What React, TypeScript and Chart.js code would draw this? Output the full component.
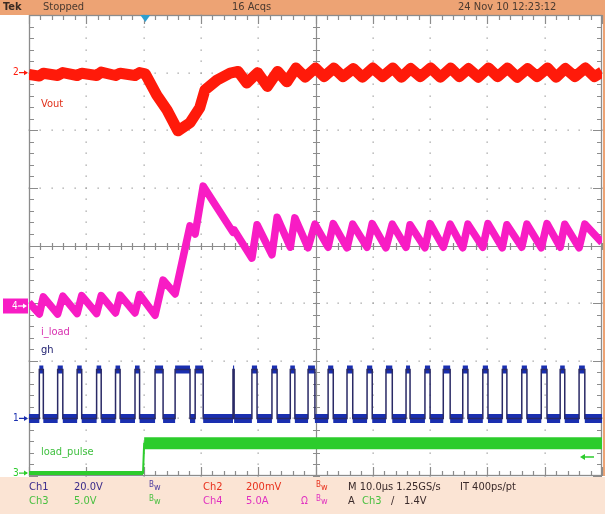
import React, { useEffect, useRef } from 'react';
import { Chart, registerables } from 'chart.js';

Chart.register(...registerables);

// ---- time axis: 0..100 µs (10 µs/div), vertical axis in divisions (-4..4) ----
const timeMin = 0;
const timeMax = 100;
const divMin = -4;
const divMax = 4;
const triggerTime = 20.3;

// Ch2 (Vout) trace, in divisions
const voutT = [0, 1.8, 2.5, 5.0, 5.9, 8.4, 9.2, 11.8, 12.6, 15.1, 15.9, 18.5, 19.3, 20.3, 22.3, 24.1, 26.0, 28.1, 29.8, 30.7, 32.8, 35.1, 36.5, 38.0, 39.9, 41.6, 43.4, 45.0, 46.6, 48.2, 50.0, 51.5, 53.2, 54.8, 56.6, 58.2, 60.0, 61.7, 63.5, 65.0, 66.6, 68.3, 70.1, 71.8, 73.6, 75.1, 76.7, 78.4, 80.2, 81.8, 83.5, 85.2, 87.0, 88.7, 90.5, 92.0, 93.6, 95.3, 97.1, 98.7, 100];
const voutV = [2.97, 2.94, 2.99, 2.95, 3.00, 2.95, 2.99, 2.95, 3.01, 2.95, 2.99, 2.95, 3.00, 2.98, 2.61, 2.35, 1.99, 2.13, 2.39, 2.70, 2.87, 2.99, 3.02, 2.82, 3.00, 2.76, 3.02, 2.84, 3.08, 2.92, 3.08, 2.93, 3.08, 2.93, 3.07, 2.92, 3.08, 2.93, 3.08, 2.92, 3.07, 2.93, 3.08, 2.92, 3.08, 2.93, 3.07, 2.92, 3.08, 2.93, 3.08, 2.92, 3.07, 2.93, 3.08, 2.92, 3.07, 2.93, 3.08, 2.93, 3.01];

// Ch4 (i_load) trace, in divisions
const iloadT = [0, 1.8, 2.5, 5.0, 5.9, 8.4, 9.2, 11.8, 12.6, 15.1, 15.9, 18.5, 19.3, 22.0, 23.4, 25.5, 28.1, 29.0, 30.4, 35.6, 35.8, 38.9, 39.8, 42.4, 43.3, 45.6, 46.4, 48.7, 49.9, 52.2, 53.1, 55.5, 56.5, 59.0, 59.9, 62.3, 63.4, 65.8, 66.5, 69.1, 70.0, 72.3, 73.5, 75.7, 76.6, 79.2, 80.1, 82.6, 83.4, 86.0, 86.9, 89.4, 90.4, 92.7, 93.5, 96.0, 97.0, 100];
const iloadV = [-0.99, -1.19, -0.89, -1.19, -0.88, -1.18, -0.87, -1.18, -0.87, -1.17, -0.86, -1.17, -0.85, -1.21, -0.60, -0.84, 0.34, 0.20, 1.03, 0.23, 0.27, -0.22, 0.36, -0.16, 0.49, -0.03, 0.48, -0.04, 0.37, -0.03, 0.38, -0.04, 0.37, -0.03, 0.38, -0.04, 0.37, -0.03, 0.36, -0.04, 0.38, -0.03, 0.37, -0.04, 0.37, -0.03, 0.38, -0.04, 0.36, -0.03, 0.37, -0.04, 0.38, -0.03, 0.37, -0.04, 0.37, 0.05];

// Ch1 (gh) gate pulses: rising / falling edge times (µs) and levels (div)
const ghRise = [1.8, 5.0, 8.4, 11.8, 15.1, 18.5, 22.0, 25.5, 29.0, 35.6, 38.9, 42.4, 45.6, 48.7, 52.2, 55.5, 59.0, 62.3, 65.8, 69.1, 72.3, 75.7, 79.2, 82.6, 86.0, 89.4, 92.7, 96.0];
const ghFall = [2.5, 5.9, 9.2, 12.6, 15.9, 19.3, 23.4, 28.1, 30.4, 35.8, 39.8, 43.3, 46.4, 49.9, 53.1, 56.5, 59.9, 63.4, 66.5, 70.0, 73.5, 76.6, 80.1, 83.4, 86.9, 90.4, 93.5, 97.0];
const ghHigh = -2.15;
const ghLow = -3.0;

// Ch3 (load_pulse) step
const loadT = [0, 19.9, 20.1, 100];
const loadV = [-3.95, -3.95, -3.43, -3.43];

// channel reference markers (div)
const markerLevels = { ch2: 3.0, ch4: -1.05, ch1: -3.0, ch3: -3.95, trig: -3.67 };

const RED = '#ff1a0a';
const MAGENTA = '#f81cc4';
const BLUE = '#1a2fb0';
const GREEN = '#2ccc2c';
const HEADER_BG = '#eda374';
const FOOTER_BG = '#fbe4d4';
const FONT = '"DejaVu Sans Condensed", "Liberation Sans Narrow", "DejaVu Sans", sans-serif';

function zip(ts: number[], vs: number[]) {
  return ts.map((t, i) => ({ x: t, y: vs[i] }));
}

function ghEdges() {
  const pts: { x: number; y: number }[] = [{ x: timeMin, y: ghLow }];
  ghRise.forEach((r, i) => {
    pts.push({ x: r, y: ghLow }, { x: r, y: ghHigh }, { x: ghFall[i], y: ghHigh }, { x: ghFall[i], y: ghLow });
  });
  pts.push({ x: timeMax, y: ghLow });
  return pts;
}

function ghLowBands() {
  const pts: { x: number; y: number | null }[] = [];
  let start = timeMin;
  ghRise.forEach((r, i) => {
    pts.push({ x: start, y: ghLow }, { x: r, y: ghLow }, { x: r, y: null });
    start = ghFall[i];
  });
  pts.push({ x: start, y: ghLow }, { x: timeMax, y: ghLow });
  return pts;
}

function ghHighBands() {
  const pts: { x: number; y: number | null }[] = [];
  ghRise.forEach((r, i) => {
    pts.push({ x: r, y: ghHigh }, { x: ghFall[i], y: ghHigh }, { x: ghFall[i], y: null });
  });
  return pts;
}

function text(ctx: CanvasRenderingContext2D, s: string, x: number, y: number, color: string, size = 11, weight = 'normal', align: CanvasTextAlign = 'left') {
  ctx.font = `${weight} ${size}px ${FONT}`;
  ctx.fillStyle = color;
  ctx.textAlign = align;
  ctx.textBaseline = 'middle';
  ctx.fillText(s, x, y);
}

function bw(ctx: CanvasRenderingContext2D, x: number, y: number, color: string) {
  text(ctx, 'B', x, y - 2, color, 8);
  text(ctx, 'w', x + 5, y + 1, color, 9);
}

const scopePlugin = {
  id: 'scope',
  beforeDraw(chart: any) {
    const { ctx, width, height, chartArea: a } = chart;
    ctx.save();
    ctx.fillStyle = '#ffffff';
    ctx.fillRect(0, 0, width, height);
    ctx.fillStyle = HEADER_BG;
    ctx.fillRect(0, 0, width, a.top);
    ctx.fillRect(a.right + 1, a.top, width - a.right, a.bottom - a.top);
    ctx.fillStyle = FOOTER_BG;
    ctx.fillRect(0, a.bottom + 1, width, height - a.bottom);
    ctx.restore();
  },
  beforeDatasetsDraw(chart: any) {
    const { ctx, chartArea: a, scales } = chart;
    const xs = scales.x;
    const ys = scales.y;
    ctx.save();
    // dotted division lines
    ctx.fillStyle = '#a0a0a0';
    for (let i = 1; i < 10; i++) {
      if (i === 5) continue;
      const xp = Math.round(xs.getPixelForValue(i * 10));
      for (let k = 0; k <= 40; k++) {
        const yp = Math.round(ys.getPixelForValue(divMin + k * 0.2));
        ctx.fillRect(xp - 0.5, yp - 0.5, 1.3, 1.3);
      }
    }
    for (let j = -3; j <= 3; j++) {
      if (j === 0) continue;
      const yp = Math.round(ys.getPixelForValue(j));
      for (let k = 0; k <= 50; k++) {
        const xp = Math.round(xs.getPixelForValue(k * 2));
        ctx.fillRect(xp - 0.5, yp - 0.5, 1.3, 1.3);
      }
    }
    // center cross
    ctx.strokeStyle = '#8c8c8c';
    ctx.lineWidth = 1.2;
    const cx = Math.round(xs.getPixelForValue(50)) + 0.5;
    const cy = Math.round(ys.getPixelForValue(0)) + 0.5;
    ctx.beginPath();
    ctx.moveTo(a.left, cy); ctx.lineTo(a.right, cy);
    ctx.moveTo(cx, a.top); ctx.lineTo(cx, a.bottom);
    for (let k = 0; k <= 50; k++) {
      const xp = Math.round(xs.getPixelForValue(k * 2)) + 0.5;
      ctx.moveTo(xp, cy - 3.5); ctx.lineTo(xp, cy + 3.5);
    }
    for (let k = 0; k <= 40; k++) {
      const yp = Math.round(ys.getPixelForValue(divMin + k * 0.2)) + 0.5;
      ctx.moveTo(cx - 3.5, yp); ctx.lineTo(cx + 3.5, yp);
    }
    ctx.stroke();
    // border with inward ticks
    ctx.strokeStyle = '#8c8c8c';
    ctx.lineWidth = 1.3;
    ctx.strokeRect(a.left + 0.5, a.top + 0.5, a.right - a.left - 1, a.bottom - a.top - 1);
    ctx.lineWidth = 1.2;
    ctx.beginPath();
    for (let k = 0; k <= 50; k++) {
      const xp = Math.round(xs.getPixelForValue(k * 2)) + 0.5;
      const len = k % 5 === 0 ? 9 : 5;
      ctx.moveTo(xp, a.top); ctx.lineTo(xp, a.top + len);
      ctx.moveTo(xp, a.bottom); ctx.lineTo(xp, a.bottom - len);
    }
    for (let k = 0; k <= 40; k++) {
      const yp = Math.round(ys.getPixelForValue(divMin + k * 0.2)) + 0.5;
      const len = k % 5 === 0 ? 9 : 5;
      ctx.moveTo(a.left, yp); ctx.lineTo(a.left + len, yp);
      ctx.moveTo(a.right, yp); ctx.lineTo(a.right - len, yp);
    }
    ctx.stroke();
    ctx.restore();
  },
  afterDatasetsDraw(chart: any) {
    const { ctx, chartArea: a, scales } = chart;
    const xs = scales.x;
    const ys = scales.y;
    ctx.save();
    // header
    text(ctx, 'Tek', 3, 7.5, '#3a2a22', 11, 'bold');
    text(ctx, 'Stopped', 43, 7.5, '#4a3a30', 11);
    text(ctx, '16 Acqs', 232, 7.5, '#4a3a30', 11);
    text(ctx, '24 Nov 10 12:23:12', 458, 7.5, '#4a3a30', 11);
    // trigger position marker
    const tx = xs.getPixelForValue(triggerTime);
    ctx.fillStyle = '#2e9fcf';
    ctx.beginPath();
    ctx.moveTo(tx - 5, a.top); ctx.lineTo(tx + 5, a.top); ctx.lineTo(tx, a.top + 7); ctx.closePath();
    ctx.fill();
    // channel markers
    const arrow = (y: number, color: string, label: string) => {
      text(ctx, label, 13, y, color, 10);
      ctx.strokeStyle = color; ctx.fillStyle = color; ctx.lineWidth = 1.2;
      ctx.beginPath(); ctx.moveTo(19, y); ctx.lineTo(27, y); ctx.stroke();
      ctx.beginPath(); ctx.moveTo(28, y); ctx.lineTo(24, y - 2.5); ctx.lineTo(24, y + 2.5); ctx.closePath(); ctx.fill();
    };
    arrow(ys.getPixelForValue(markerLevels.ch2), RED, '2');
    arrow(ys.getPixelForValue(markerLevels.ch1), BLUE, '1');
    arrow(ys.getPixelForValue(markerLevels.ch3), GREEN, '3');
    const y4 = ys.getPixelForValue(markerLevels.ch4);
    ctx.fillStyle = MAGENTA;
    ctx.fillRect(3, y4 - 7.5, 25, 15);
    text(ctx, '4', 12, y4, '#ffffff', 10);
    ctx.strokeStyle = '#ffffff'; ctx.fillStyle = '#ffffff'; ctx.lineWidth = 1.2;
    ctx.beginPath(); ctx.moveTo(18, y4); ctx.lineTo(25, y4); ctx.stroke();
    ctx.beginPath(); ctx.moveTo(27, y4); ctx.lineTo(23, y4 - 2.5); ctx.lineTo(23, y4 + 2.5); ctx.closePath(); ctx.fill();
    // trigger level arrow (right)
    const ty = ys.getPixelForValue(markerLevels.trig);
    ctx.strokeStyle = GREEN; ctx.fillStyle = GREEN; ctx.lineWidth = 1.5;
    ctx.beginPath(); ctx.moveTo(583, ty); ctx.lineTo(594, ty); ctx.stroke();
    ctx.beginPath(); ctx.moveTo(580, ty); ctx.lineTo(585, ty - 3); ctx.lineTo(585, ty + 3); ctx.closePath(); ctx.fill();
    // trace labels
    text(ctx, 'Vout', 41, 104, '#e0301a', 11);
    text(ctx, 'i_load', 41, 332, '#d830b0', 11);
    text(ctx, 'gh', 41, 350, '#202070', 11);
    text(ctx, 'load_pulse', 41, 452, '#40c040', 11);
    // footer
    const r1 = 487;
    const r2 = 501;
    text(ctx, 'Ch1', 29, r1, '#3a2a8a', 11);
    text(ctx, '20.0V', 74, r1, '#3a2a8a', 11);
    bw(ctx, 149, r1, '#4a3aa0');
    text(ctx, 'Ch2', 203, r1, '#e8301c', 11);
    text(ctx, '200mV', 246, r1, '#e8301c', 11);
    bw(ctx, 316, r1, '#e8301c');
    text(ctx, 'M 10.0\u00b5s 1.25GS/s', 348, r1, '#3a2a2a', 11);
    text(ctx, 'IT 400ps/pt', 460, r1, '#3a2a2a', 11);
    text(ctx, 'Ch3', 29, r2, '#48c040', 11);
    text(ctx, '5.0V', 74, r2, '#48c040', 11);
    bw(ctx, 149, r2, '#48c040');
    text(ctx, 'Ch4', 203, r2, '#e030c0', 11);
    text(ctx, '5.0A', 246, r2, '#e030c0', 11);
    text(ctx, '\u03a9', 301, r2, '#e030c0', 10);
    bw(ctx, 316, r2, '#e030c0');
    text(ctx, 'A', 348, r2, '#3a2a2a', 11);
    text(ctx, 'Ch3', 362, r2, '#48c040', 11);
    text(ctx, '\u2215', 391, r2, '#3a2a2a', 11);
    text(ctx, '1.4V', 404, r2, '#3a2a2a', 11);
    ctx.restore();
  },
};

export default function App() {
  const ref = useRef<HTMLCanvasElement | null>(null);
  useEffect(() => {
    if (!ref.current) return;
    const line = (data: any[], color: string, width: number, extra: any = {}) => ({
      data,
      borderColor: color,
      borderWidth: width,
      pointRadius: 0,
      tension: 0,
      spanGaps: false,
      borderJoinStyle: 'round',
      borderCapStyle: 'butt',
      ...extra,
    });
    const chart = new Chart(ref.current, {
      type: 'line',
      data: {
        datasets: [
          line(zip(loadT, loadV), GREEN, 2),
          line(zip(loadT.slice(0, 2), loadV.slice(0, 2)), GREEN, 4),
          line(zip(loadT.slice(2), loadV.slice(2)), GREEN, 12),
          line(ghEdges(), '#2a2a66', 1.5, { borderJoinStyle: 'miter' }),
          line(ghLowBands(), BLUE, 9),
          line(ghHighBands(), BLUE, 8),
          line(zip(iloadT, iloadV), MAGENTA, 7.5),
          line(zip(voutT, voutV), RED, 11),
        ] as any,
      },
      options: {
        animation: false,
        responsive: false,
        maintainAspectRatio: false,
        devicePixelRatio: 1,
        parsing: true,
        layout: { padding: { left: 29, top: 15, right: 3, bottom: 38 } },
        scales: {
          x: { type: 'linear', min: timeMin, max: timeMax, display: false },
          y: { type: 'linear', min: divMin, max: divMax, display: false },
        },
        plugins: { legend: { display: false }, tooltip: { enabled: false }, title: { display: false } },
        elements: { point: { radius: 0 } },
      } as any,
      plugins: [scopePlugin],
    });
    return () => chart.destroy();
  }, []);
  return (
    <div style={{ position: 'fixed', left: 0, top: 0, width: 605, height: 514 }}>
      <canvas ref={ref} width={605} height={514} style={{ display: 'block', width: 605, height: 514 }} />
    </div>
  );
}
